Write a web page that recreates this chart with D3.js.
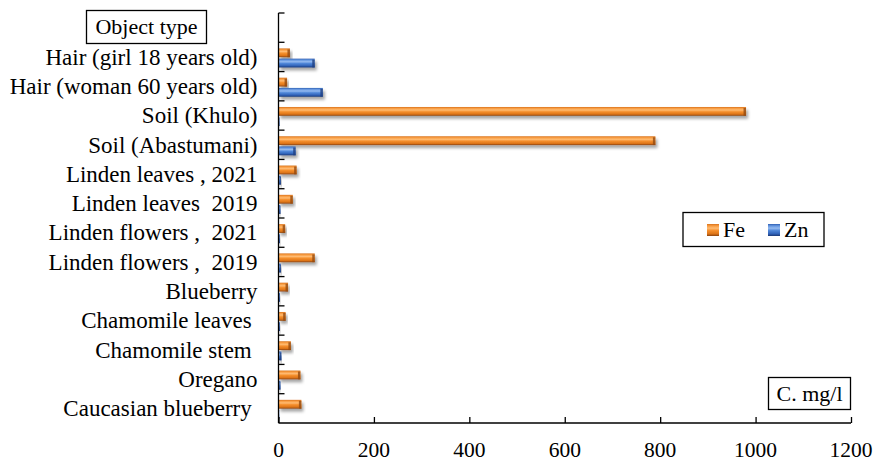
<!DOCTYPE html>
<html>
<head>
<meta charset="utf-8">
<script src="https://cdn.jsdelivr.net/npm/d3@7"></script>
<style>
  html, body { margin: 0; padding: 0; background: #fff; }
  svg { display: block; font-family: "Liberation Serif", "Times New Roman", serif; }
  text { white-space: pre; }
</style>
</head>
<body>
<svg id="chart" width="875" height="462"></svg>
<script>
// Object types, listed top to bottom (the first slot is left blank for the header box)
const categories = [
  "",
  "Hair (girl 18 years old)",
  "Hair (woman 60 years old)",
  "Soil (Khulo)",
  "Soil (Abastumani)",
  "Linden leaves , 2021",
  "Linden leaves  2019",
  "Linden flowers ,  2021",
  "Linden flowers ,  2019",
  "Blueberry",
  "Chamomile leaves ",
  "Chamomile stem ",
  "Oregano",
  "Caucasian blueberry "
];
const seriesNames = ["Fe", "Zn"];
// Concentrations, C. mg/l
const feValues = [null, 24, 18, 980, 790, 38, 30, 14, 76, 20, 15, 26, 46, 48];
const znValues = [null, 76, 93, 2, 36, 5, 4, 3, 5, 3, 3, 6, 4, 1];
const xTicks = [0, 200, 400, 600, 800, 1000, 1200];

const svg = d3.select("#chart");
const margin = { left: 278.5, right: 24, top: 13, bottom: 39 };
const W = 875, H = 462;

const x = d3.scaleLinear().domain([0, 1200]).range([margin.left, W - margin.right]);
const y = d3.scaleBand().domain(categories).range([margin.top, H - margin.bottom]).padding(0);
const ySub = d3.scaleBand().domain(seriesNames)
  .range([1, y.bandwidth() + 1]).paddingInner(0.14).paddingOuter(0.5);

// Gradients giving the bars a rounded, bevelled look
const defs = svg.append("defs");
function barGradient(id, stops) {
  const g = defs.append("linearGradient").attr("id", id)
    .attr("x1", 0).attr("y1", 0).attr("x2", 0).attr("y2", 1);
  stops.forEach(([o, c]) => g.append("stop").attr("offset", o).attr("stop-color", c));
}
barGradient("gFe", [[0, "#d8721c"], [0.15, "#f79a3e"], [0.35, "#ffbb72"], [0.55, "#f58f2c"], [0.82, "#dd7418"], [1, "#8a4410"]]);
barGradient("gZn", [[0, "#2f5fb2"], [0.15, "#6294de"], [0.35, "#94baf0"], [0.55, "#4f86d8"], [0.82, "#3062b8"], [1, "#1a3774"]]);
const shadow = defs.append("filter").attr("id", "shadow")
  .attr("x", "-10%").attr("y", "-50%").attr("width", "130%").attr("height", "220%");
shadow.append("feDropShadow").attr("dx", 2).attr("dy", 3).attr("stdDeviation", 1.6)
  .attr("flood-color", "#000").attr("flood-opacity", 0.35);

const colours = { Fe: "url(#gFe)", Zn: "url(#gZn)" };
const capColours = { Fe: "#944a10", Zn: "#1f3f80" };

// Bars
const rows = categories.map((c, i) => ({ cat: c, Fe: feValues[i], Zn: znValues[i] }))
  .filter(r => r.Fe !== null);
const groups = svg.append("g").selectAll("g").data(rows).join("g")
  .attr("transform", d => `translate(0,${y(d.cat)})`);
seriesNames.forEach(s => {
  groups.append("rect")
    .attr("x", x(0))
    .attr("y", ySub(s))
    .attr("width", d => Math.max(0.8, x(d[s]) - x(0)))
    .attr("height", ySub.bandwidth())
    .attr("fill", colours[s])
    .attr("filter", "url(#shadow)");
  groups.append("rect")
    .attr("x", d => x(d[s]) - Math.min(2.5, (x(d[s]) - x(0)) / 2))
    .attr("y", ySub(s) + 1)
    .attr("width", d => Math.min(2.5, (x(d[s]) - x(0)) / 2))
    .attr("height", ySub.bandwidth() - 1)
    .attr("fill", capColours[s])
    .attr("opacity", 0.8);
});

// X axis with ticks pointing inward
const xAxis = svg.append("g").attr("transform", `translate(0,${H - margin.bottom})`)
  .call(d3.axisTop(x).tickValues(xTicks).tickSize(6).tickFormat(""));
xAxis.select(".domain").attr("stroke", "#000").attr("stroke-width", 1.3)
  .attr("d", `M${x(0)},0H${x(1200)}`);
xAxis.selectAll(".tick line").attr("stroke", "#000").attr("stroke-width", 1.3);
svg.append("g").selectAll("text").data(xTicks).join("text")
  .attr("x", d => x(d)).attr("y", H - margin.bottom + 34)
  .attr("text-anchor", "middle").attr("font-size", 21.5).attr("fill", "#000")
  .text(d => d);

// Y axis: line plus tick marks at the category boundaries
const yAxis = svg.append("g");
yAxis.append("line")
  .attr("x1", x(0)).attr("x2", x(0))
  .attr("y1", margin.top).attr("y2", H - margin.bottom)
  .attr("stroke", "#000").attr("stroke-width", 1.3);
const bounds = categories.map(c => y(c));
yAxis.selectAll(".bt").data(bounds).join("line")
  .attr("x1", x(0)).attr("x2", x(0) + 6)
  .attr("y1", d => d).attr("y2", d => d)
  .attr("stroke", "#000").attr("stroke-width", 1.3);

// Category labels
svg.append("g").selectAll("text").data(categories.filter(c => c !== "")).join("text")
  .attr("x", x(0) - 21)
  .attr("y", d => y(d) + y.bandwidth() / 2)
  .attr("dy", "0.34em")
  .attr("text-anchor", "end").attr("font-size", 23).attr("fill", "#000")
  .text(d => d);

// Boxed header for the category axis
const hdr = svg.append("g");
hdr.append("rect").attr("x", 86.5).attr("y", 10.5).attr("width", 120).attr("height", 33)
  .attr("fill", "#fff").attr("stroke", "#000").attr("stroke-width", 1.3);
hdr.append("text").attr("x", 146.5).attr("y", 27).attr("dy", "0.33em")
  .attr("text-anchor", "middle").attr("font-size", 22).text("Object type");

// Boxed unit label
const unit = svg.append("g");
unit.append("rect").attr("x", 768.5).attr("y", 377.5).attr("width", 82).attr("height", 32)
  .attr("fill", "#fff").attr("stroke", "#000").attr("stroke-width", 1.3);
unit.append("text").attr("x", 809.5).attr("y", 393.5).attr("dy", "0.33em")
  .attr("text-anchor", "middle").attr("font-size", 22).text("C. mg/l");

// Legend
const legend = svg.append("g");
legend.append("rect").attr("x", 683).attr("y", 212.5).attr("width", 141).attr("height", 34)
  .attr("fill", "#fff").attr("stroke", "#000").attr("stroke-width", 1.3);
const legendX = { Fe: 707, Zn: 768 };
seriesNames.forEach(s => {
  legend.append("rect").attr("x", legendX[s]).attr("y", 224).attr("width", 12).attr("height", 12)
    .attr("fill", colours[s]);
  legend.append("text").attr("x", legendX[s] + 16).attr("y", 230).attr("dy", "0.33em")
    .attr("font-size", 22).text(s);
});
</script>
</body>
</html>
